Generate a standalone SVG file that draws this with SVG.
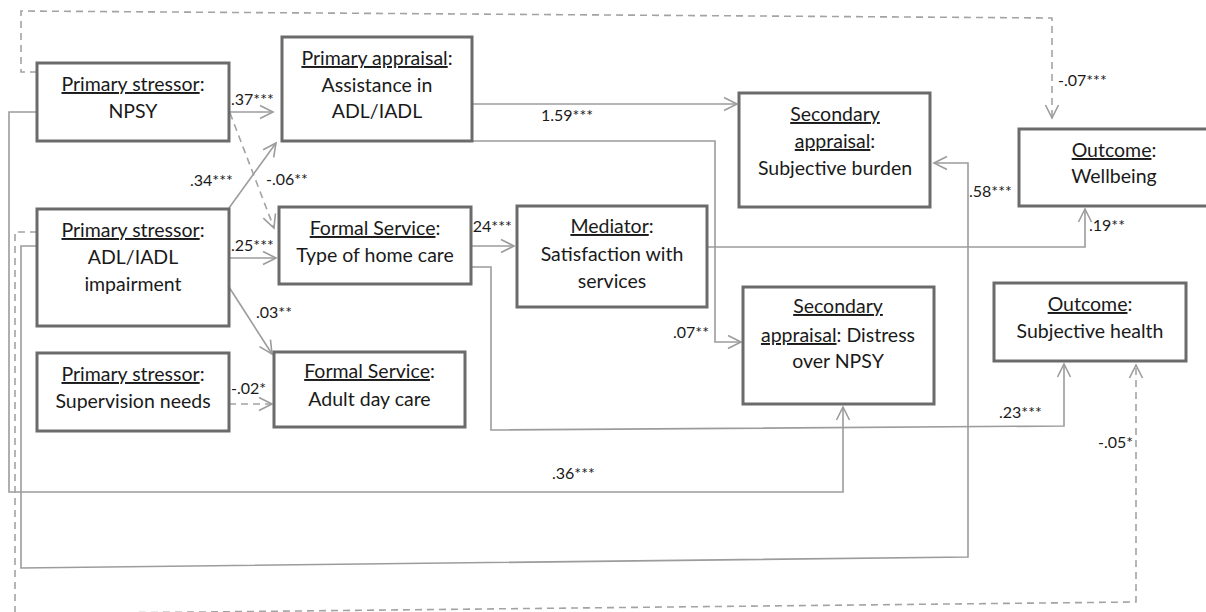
<svg xmlns="http://www.w3.org/2000/svg" width="1206" height="612" viewBox="0 0 1206 612">
<style>
.box{fill:#fff;stroke:#6b6b6b;stroke-width:3}
.t{font-family:Lato,"Liberation Sans",sans-serif;font-size:19.5px;fill:#1a1a1a;text-anchor:middle}
.u{text-decoration:underline}
.c{fill:none;stroke:#9c9c9c;stroke-width:1.6}
.d{fill:none;stroke:#a3a3a3;stroke-width:1.6;stroke-dasharray:7 5}
.l{font-family:Lato,"Liberation Sans",sans-serif;font-size:16px;fill:#1a1a1a}
</style>
<defs>
<marker id="a" markerUnits="userSpaceOnUse" viewBox="-15 -8 17 16" markerWidth="17" markerHeight="16" refX="0" refY="0" orient="auto">
<path d="M-13,-6.5 L0,0 L-13,6.5" fill="none" stroke="#9c9c9c" stroke-width="1.6" stroke-dasharray="none"/>
</marker>
</defs>
<rect width="1206" height="612" fill="#fff"/>
<g id="connectors">
<path class="d" d="M37,72 H21 V11 L1052,18 V118" marker-end="url(#a)"/>
<path class="c" d="M229,112 H273" marker-end="url(#a)"/>
<path class="d" d="M230,113 L274,228" marker-end="url(#a)"/>
<path class="c" d="M229,208 L276,143" marker-end="url(#a)"/>
<path class="c" d="M229,258 H276" marker-end="url(#a)"/>
<path class="c" d="M229,287 L272,354" marker-end="url(#a)"/>
<path class="d" d="M229,404 H272" marker-end="url(#a)"/>
<path class="c" d="M472,104 H737" marker-end="url(#a)"/>
<path class="c" d="M472,141 H715 V342 H741" marker-end="url(#a)"/>
<path class="c" d="M471,246 H514" marker-end="url(#a)"/>
<path class="c" d="M707,247 H1085 V209" marker-end="url(#a)"/>
<path class="c" d="M471,267 H491 V430 L1064,426 V364" marker-end="url(#a)"/>
<path class="c" d="M37,112 H9 V492 H843 V407" marker-end="url(#a)"/>
<path class="c" d="M37,246 H21 V568 L968,557 V163 H934" marker-end="url(#a)"/>
<path class="d" d="M37,232 H15 V614 L1136,602 V365" marker-end="url(#a)"/>
<text class="l" x="1058" y="86">-.07***</text>
<text class="l" x="231" y="105">.37***</text>
<text class="l" x="266" y="185">-.06**</text>
<text class="l" x="190" y="186">.34***</text>
<text class="l" x="231" y="251">.25***</text>
<text class="l" x="256" y="318">.03**</text>
<text class="l" x="231" y="394">-.02*</text>
<text class="l" x="541" y="121">1.59***</text>
<text class="l" x="673" y="338">.07**</text>
<text class="l" x="469" y="232">.24***</text>
<text class="l" x="1089" y="231">.19**</text>
<text class="l" x="999" y="418">.23***</text>
<text class="l" x="552" y="479">.36***</text>
<text class="l" x="969" y="197">.58***</text>
<text class="l" x="1098" y="448">-.05*</text>
</g>
<g id="npsy">
<rect class="box" x="37" y="63" width="192" height="78"/>
<text class="t" x="133" y="91"><tspan class="u">Primary stressor</tspan>:</text>
<text class="t" x="133" y="118">NPSY</text>
</g>
<g id="primary-appraisal">
<rect class="box" x="282" y="37" width="190" height="104"/>
<text class="t" x="377" y="65"><tspan class="u">Primary appraisal</tspan>:</text>
<text class="t" x="377" y="92">Assistance in</text>
<text class="t" x="377" y="118">ADL/IADL</text>
</g>
<g id="subjective-burden">
<rect class="box" x="739" y="93" width="191" height="114"/>
<text class="t" x="835" y="121"><tspan class="u">Secondary</tspan></text>
<text class="t" x="835" y="148"><tspan class="u">appraisal</tspan>:</text>
<text class="t" x="835" y="175">Subjective burden</text>
</g>
<g id="wellbeing">
<rect class="box" x="1019" y="129" width="192" height="77"/>
<text class="t" x="1114" y="157"><tspan class="u">Outcome</tspan>:</text>
<text class="t" x="1114" y="183">Wellbeing</text>
</g>
<g id="adl">
<rect class="box" x="37" y="209" width="192" height="117"/>
<text class="t" x="133" y="237"><tspan class="u">Primary stressor</tspan>:</text>
<text class="t" x="133" y="264">ADL/IADL</text>
<text class="t" x="133" y="291">impairment</text>
</g>
<g id="home-care">
<rect class="box" x="279" y="207" width="192" height="77"/>
<text class="t" x="375" y="235"><tspan class="u">Formal Service</tspan>:</text>
<text class="t" x="375" y="262">Type of home care</text>
</g>
<g id="mediator">
<rect class="box" x="517" y="206" width="190" height="101"/>
<text class="t" x="612" y="233"><tspan class="u">Mediator</tspan>:</text>
<text class="t" x="612" y="261">Satisfaction with</text>
<text class="t" x="612" y="288">services</text>
</g>
<g id="distress">
<rect class="box" x="743" y="287" width="191" height="117"/>
<text class="t" x="838" y="313"><tspan class="u">Secondary</tspan></text>
<text class="t" x="838" y="342"><tspan class="u">appraisal</tspan>: Distress</text>
<text class="t" x="838" y="368">over NPSY</text>
</g>
<g id="subjective-health">
<rect class="box" x="994" y="283" width="192" height="78"/>
<text class="t" x="1090" y="311"><tspan class="u">Outcome</tspan>:</text>
<text class="t" x="1090" y="338">Subjective health</text>
</g>
<g id="supervision">
<rect class="box" x="37" y="353" width="192" height="78"/>
<text class="t" x="133" y="381"><tspan class="u">Primary stressor</tspan>:</text>
<text class="t" x="133" y="408">Supervision needs</text>
</g>
<g id="adult-day-care">
<rect class="box" x="274" y="352" width="191" height="75"/>
<text class="t" x="369.5" y="378"><tspan class="u">Formal Service</tspan>:</text>
<text class="t" x="369.5" y="406">Adult day care</text>
</g>
</svg>
